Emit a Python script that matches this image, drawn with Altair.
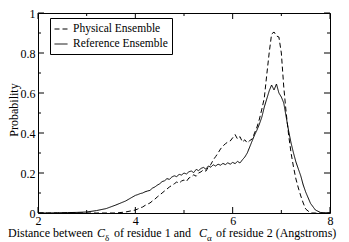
import altair as alt
import pandas as pd

# ---------------- data ----------------
x_vals = [2.0, 2.2, 2.4, 2.6, 2.8, 3.0, 3.2, 3.4, 3.6, 3.8, 4.0,
          4.05, 4.1, 4.15, 4.2, 4.25, 4.3, 4.35, 4.4, 4.45, 4.5,
          4.55, 4.6, 4.65, 4.7, 4.75, 4.8, 4.85, 4.9, 4.95, 5.0,
          5.05, 5.1, 5.15, 5.2, 5.25, 5.3, 5.35, 5.4, 5.45, 5.5,
          5.55, 5.6, 5.65, 5.7, 5.75, 5.8, 5.85, 5.9, 5.95, 6.0,
          6.05, 6.1, 6.15, 6.2, 6.25, 6.3, 6.35, 6.4, 6.45, 6.5,
          6.55, 6.6, 6.65, 6.7, 6.75, 6.8, 6.85, 6.9, 6.95, 7.0,
          7.05, 7.1, 7.15, 7.2, 7.25, 7.3, 7.35, 7.4, 7.45, 7.5,
          7.6, 7.7, 7.8, 7.9, 8.0]

physical = [0.0, 0.0, 0.0, 0.0, 0.0, 0.0, 0.0, 0.0, 0.0, 0.005, 0.015,
            0.02, 0.026, 0.03, 0.038, 0.044, 0.05, 0.06, 0.069, 0.08, 0.09,
            0.1, 0.11, 0.12, 0.13, 0.138, 0.146, 0.155, 0.149, 0.16, 0.165,
            0.158, 0.175, 0.18, 0.191, 0.184, 0.2, 0.206, 0.216, 0.209, 0.23,
            0.242, 0.265, 0.282, 0.3, 0.32, 0.335, 0.346, 0.355, 0.36, 0.376,
            0.392, 0.37, 0.382, 0.355, 0.366, 0.35, 0.362, 0.37, 0.4, 0.43,
            0.47, 0.52, 0.575, 0.69, 0.8, 0.895, 0.905, 0.885, 0.88, 0.8,
            0.63, 0.5, 0.39, 0.3, 0.23, 0.17, 0.125, 0.085, 0.05, 0.02,
            0.0, 0.0, 0.0, 0.0, 0.0]

reference = [0.0, 0.0, 0.001, 0.002, 0.003, 0.005, 0.012, 0.022, 0.04, 0.06, 0.088,
             0.092, 0.097, 0.1, 0.106, 0.11, 0.113, 0.124, 0.13, 0.139, 0.146,
             0.157, 0.161, 0.172, 0.168, 0.18, 0.186, 0.182, 0.193, 0.19, 0.2,
             0.195, 0.206, 0.21, 0.202, 0.218, 0.212, 0.223, 0.228, 0.219, 0.235,
             0.229, 0.241, 0.235, 0.244, 0.239, 0.248, 0.242, 0.251, 0.244, 0.253,
             0.247, 0.258, 0.25, 0.266, 0.28, 0.3, 0.33, 0.36, 0.39, 0.415,
             0.445, 0.48, 0.53, 0.57, 0.61, 0.64, 0.615, 0.645, 0.6, 0.58,
             0.55, 0.48, 0.41, 0.35, 0.3, 0.255, 0.22, 0.185, 0.14, 0.105,
             0.048, 0.015, 0.003, 0.0, 0.0]

series_names = ["Physical Ensemble", "Reference Ensemble"]

x_major = [2, 4, 6, 8]
x_minor = [3, 5, 7]
y_major = [0, 0.2, 0.4, 0.6, 0.8, 1.0]
y_minor = [0.1, 0.3, 0.5, 0.7, 0.9]

x_title_parts = ["Distance between", "C", "\u03b4", "of residue 1 and", "C", "\u03b1",
                 "of residue 2 (Angstroms)"]
y_title = "Probability"

# ---------------- build tables ----------------
rows = []
for name, ys in zip(series_names, [physical, reference]):
    for xv, yv in zip(x_vals, ys):
        rows.append({"x": xv, "y": yv, "series": name})
df = pd.DataFrame(rows)

W, H = 292, 200
FONT = "Liberation Serif"

xscale = alt.Scale(domain=[2, 8], nice=False, zero=False)
yscale = alt.Scale(domain=[0, 1], nice=False)

xaxis = alt.Axis(values=x_major, ticks=False, domain=False, grid=False,
                 labelFont=FONT, labelFontSize=12, labelPadding=2,
                 labelColor="black", labelFlush=False, format="d", title=None)
yaxis = alt.Axis(values=y_major, ticks=False, domain=False, grid=False,
                 labelFont=FONT, labelFontSize=12, labelPadding=3,
                 labelColor="black", labelFlush=False, format="~g", title=None)

lines = alt.Chart(df).mark_line(strokeWidth=1, color="black", clip=True).encode(
    x=alt.X("x:Q", scale=xscale, axis=xaxis),
    y=alt.Y("y:Q", scale=yscale, axis=yaxis),
    strokeDash=alt.StrokeDash(
        "series:N",
        scale=alt.Scale(domain=series_names, range=[[5, 3], [1, 0]]),
        legend=alt.Legend(title=None, orient="none", legendX=12, legendY=5,
                          strokeColor="black", fillColor="white", padding=4,
                          symbolType="stroke", symbolSize=169, symbolStrokeWidth=1,
                          symbolStrokeColor="black", labelFont=FONT, labelFontSize=11.5,
                          labelColor="black", labelOffset=5, rowPadding=2,
                          cornerRadius=0)),
    order="x:Q",
)


def xticks(vals, length, top):
    d = pd.DataFrame({"x": vals})
    if top:
        yy, yy2 = 0, length
    else:
        yy, yy2 = H, H - length
    return alt.Chart(d).mark_rule(color="black", strokeWidth=1).encode(
        x=alt.X("x:Q", scale=xscale, axis=xaxis),
        y=alt.value(yy), y2=alt.value(yy2))


def yticks(vals, length, right):
    d = pd.DataFrame({"y": vals})
    if right:
        xx, xx2 = W - length, W
    else:
        xx, xx2 = 0, length
    return alt.Chart(d).mark_rule(color="black", strokeWidth=1).encode(
        y=alt.Y("y:Q", scale=yscale, axis=yaxis),
        x=alt.value(xx), x2=alt.value(xx2))


ticks = [
    xticks(x_major, 6, False), xticks(x_major, 6, True),
    xticks(x_minor, 3, False), xticks(x_minor, 3, True),
    yticks(y_major, 6, False), yticks(y_major, 6, True),
    yticks(y_minor, 3, False), yticks(y_minor, 3, True),
]

one = pd.DataFrame({"k": [0]})


def txt(s, x, y, size=12, style="normal", angle=0, align="left", baseline="alphabetic"):
    return alt.Chart(one).mark_text(
        text=s, font=FONT, fontSize=size, fontStyle=style, color="black",
        align=align, baseline=baseline, angle=angle).encode(
        x=alt.value(x), y=alt.value(y))


base_y = 224
sub_y = 228
titles = [
    txt(x_title_parts[0], -30, base_y),
    txt(x_title_parts[1], 59, base_y, style="italic"),
    txt(x_title_parts[2], 67, sub_y, size=9),
    txt(x_title_parts[3], 76, base_y),
    txt(x_title_parts[4], 161, base_y, style="italic"),
    txt(x_title_parts[5], 169, sub_y, size=9),
    txt(x_title_parts[6], 178, base_y),
    txt(y_title, -24.5, 97, size=12, angle=270, align="center", baseline="middle"),
]

chart = alt.layer(lines, *ticks, *titles).properties(
    width=W, height=H,
    autosize=alt.AutoSizeParams(type="none"),
    padding={"left": 30, "top": 5, "right": 11, "bottom": 29},
    background="white",
).configure_view(stroke="black", strokeWidth=1)

chart.save("out.html", embed_options={"renderer": "svg", "actions": False})
